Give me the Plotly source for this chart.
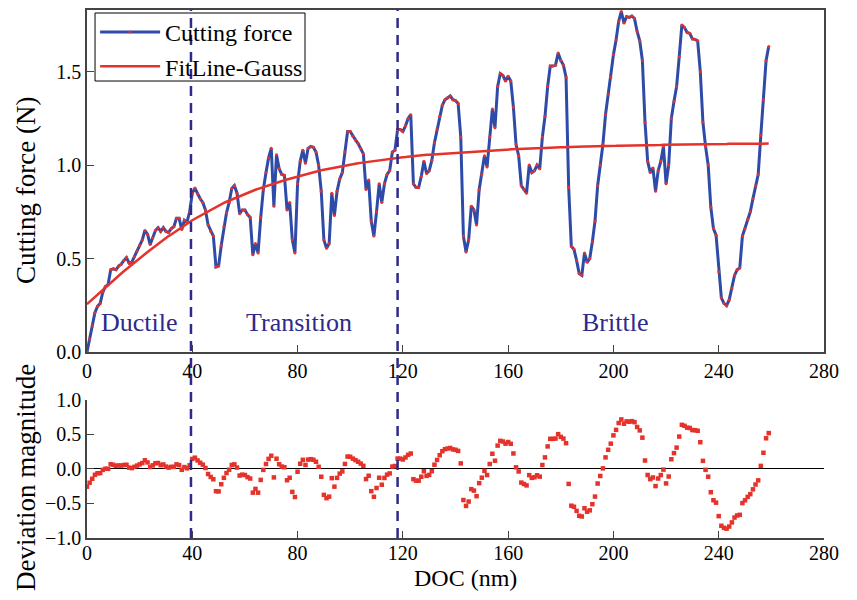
import plotly.graph_objects as go

# ---------------- data ----------------
doc_nm = list(range(260))

cutting_force = [
    0.00, 0.07, 0.14, 0.21, 0.245, 0.26, 0.32, 0.35, 0.36, 0.44,
    0.445, 0.44, 0.46, 0.47, 0.49, 0.505, 0.475, 0.48, 0.51, 0.54,
    0.57, 0.60, 0.65, 0.63, 0.575, 0.61, 0.65, 0.665, 0.645, 0.665,
    0.645, 0.64, 0.66, 0.67, 0.715, 0.715, 0.655, 0.705, 0.695, 0.75,
    0.85, 0.877, 0.845, 0.82, 0.80, 0.76, 0.68, 0.645, 0.62, 0.455,
    0.46, 0.57, 0.67, 0.745, 0.80, 0.875, 0.89, 0.85, 0.74, 0.76,
    0.76, 0.735, 0.72, 0.52, 0.58, 0.53, 0.72, 0.87, 0.96, 1.04,
    1.09, 0.78, 1.055, 0.98, 0.95, 0.945, 0.76, 0.80, 0.60, 0.53,
    0.90, 1.02, 1.08, 1.01, 1.09, 1.10, 1.095, 1.07, 1.00, 0.86,
    0.60, 0.555, 0.58, 0.85, 0.73, 0.86, 0.925, 0.96, 1.07, 1.18,
    1.18, 1.155, 1.135, 1.115, 1.09, 1.06, 0.87, 0.92, 0.70, 0.62,
    0.75, 0.90, 0.80, 0.90, 0.95, 0.97, 1.07, 1.08, 1.19, 1.19,
    1.18, 1.21, 1.25, 1.27, 0.90, 0.88, 0.88, 0.94, 1.02, 0.955,
    0.97, 1.025, 1.12, 1.19, 1.26, 1.32, 1.35, 1.36, 1.37, 1.35,
    1.345, 1.33, 1.15, 0.62, 0.535, 0.60, 0.78, 0.76, 0.68, 0.87,
    0.95, 1.05, 0.99, 1.15, 1.30, 1.20, 1.42, 1.49, 1.48, 1.45,
    1.475, 1.45, 1.31, 1.11, 1.05, 0.89, 0.87, 0.85, 1.00, 0.96,
    0.97, 1.00, 0.98, 1.15, 1.26, 1.42, 1.53, 1.53, 1.535, 1.60,
    1.56, 1.535, 1.47, 0.88, 0.565, 0.55, 0.49, 0.42, 0.41, 0.53,
    0.48, 0.50, 0.59, 0.70, 0.89, 1.00, 1.11, 1.27, 1.38, 1.47,
    1.59, 1.67, 1.77, 1.822, 1.76, 1.795, 1.79, 1.798, 1.785, 1.715,
    1.665, 1.56, 1.23, 1.02, 0.96, 0.985, 0.86, 0.97, 1.02, 1.10,
    0.90, 1.00, 1.25, 1.34, 1.42, 1.58, 1.75, 1.736, 1.71, 1.705,
    1.675, 1.673, 1.665, 1.50, 1.23, 1.10, 1.00, 0.775, 0.66, 0.625,
    0.43, 0.29, 0.26, 0.248, 0.28, 0.34, 0.41, 0.44, 0.45, 0.62,
    0.66, 0.71, 0.75, 0.82, 0.89, 0.95, 1.16, 1.35, 1.56, 1.635,
]

fit_gauss = [
    0.256, 0.269, 0.282, 0.294, 0.307, 0.320, 0.333, 0.346, 0.358, 0.371,
    0.384, 0.396, 0.408, 0.420, 0.432, 0.444, 0.455, 0.467, 0.479, 0.491,
    0.503, 0.514, 0.524, 0.535, 0.546, 0.557, 0.567, 0.578, 0.589, 0.599,
    0.610, 0.620, 0.629, 0.639, 0.648, 0.658, 0.667, 0.677, 0.686, 0.696,
    0.705, 0.713, 0.721, 0.729, 0.737, 0.745, 0.753, 0.761, 0.769, 0.777,
    0.785, 0.791, 0.798, 0.804, 0.810, 0.817, 0.823, 0.829, 0.835, 0.842,
    0.848, 0.853, 0.858, 0.863, 0.868, 0.873, 0.878, 0.883, 0.888, 0.893,
    0.898, 0.902, 0.906, 0.911, 0.915, 0.919, 0.923, 0.927, 0.932, 0.936,
    0.940, 0.944, 0.947, 0.951, 0.954, 0.958, 0.961, 0.965, 0.968, 0.972,
    0.975, 0.978, 0.981, 0.983, 0.986, 0.989, 0.992, 0.995, 0.997, 1.000,
    1.003, 1.005, 1.007, 1.010, 1.012, 1.014, 1.016, 1.018, 1.021, 1.023,
    1.025, 1.027, 1.028, 1.030, 1.032, 1.034, 1.035, 1.037, 1.039, 1.040,
    1.042, 1.043, 1.045, 1.046, 1.048, 1.049, 1.050, 1.052, 1.053, 1.055,
    1.056, 1.057, 1.058, 1.059, 1.060, 1.062, 1.063, 1.064, 1.065, 1.066,
    1.067, 1.068, 1.069, 1.070, 1.071, 1.072, 1.072, 1.073, 1.074, 1.075,
    1.076, 1.077, 1.078, 1.078, 1.079, 1.080, 1.081, 1.082, 1.082, 1.083,
    1.084, 1.085, 1.085, 1.086, 1.086, 1.087, 1.088, 1.088, 1.089, 1.089,
    1.090, 1.091, 1.091, 1.092, 1.092, 1.093, 1.093, 1.094, 1.094, 1.095,
    1.095, 1.095, 1.096, 1.096, 1.097, 1.097, 1.097, 1.098, 1.098, 1.099,
    1.099, 1.099, 1.100, 1.100, 1.101, 1.101, 1.101, 1.102, 1.102, 1.103,
    1.103, 1.103, 1.104, 1.104, 1.104, 1.105, 1.105, 1.105, 1.106, 1.106,
    1.106, 1.106, 1.107, 1.107, 1.107, 1.108, 1.108, 1.108, 1.108, 1.109,
    1.109, 1.109, 1.109, 1.110, 1.110, 1.110, 1.110, 1.110, 1.111, 1.111,
    1.111, 1.111, 1.111, 1.112, 1.112, 1.112, 1.112, 1.112, 1.113, 1.113,
    1.113, 1.113, 1.113, 1.113, 1.114, 1.114, 1.114, 1.114, 1.114, 1.114,
    1.114, 1.114, 1.115, 1.115, 1.115, 1.115, 1.115, 1.115, 1.115, 1.115,
]

# deviation magnitude = cutting force - Gauss fit
deviation = [round(f - g, 3) for f, g in zip(cutting_force, fit_gauss)]

x_ticks = [0, 40, 80, 120, 160, 200, 240, 280]
force_ticks = [0.0, 0.5, 1.0, 1.5]
dev_ticks = [-1.0, -0.5, 0.0, 0.5, 1.0]

region_names = ["Ductile", "Transition", "Brittle"]
region_doc = [20.1, 80.5, 200.6]
region_level = [0.16, 0.16, 0.16]
boundaries_nm = [39.5, 118.0]

# ---------------- styling ----------------
FONT = "Liberation Serif"
BLUE = "#2E4BA8"
RED = "#E5322A"
NAVY = "#2E2A8A"
AXIS = "#444444"

fig = go.Figure()
fig.add_trace(go.Scatter(
    x=doc_nm, y=cutting_force, mode="lines+markers", name="Cutting force",
    line=dict(color=BLUE, width=3), marker=dict(color=RED, size=3),
    xaxis="x", yaxis="y"))
fig.add_trace(go.Scatter(
    x=doc_nm, y=fit_gauss, mode="lines", name="FitLine-Gauss",
    line=dict(color=RED, width=2.5), xaxis="x", yaxis="y"))
fig.add_trace(go.Scatter(
    x=doc_nm, y=deviation, mode="markers", showlegend=False,
    marker=dict(symbol="square", size=4.5, color=RED),
    xaxis="x2", yaxis="y2"))

tickfont = dict(family=FONT, size=20, color="black")
common_x = dict(range=[0, 280], tickvals=x_ticks, ticks="inside", ticklen=7,
                tickcolor=AXIS, showline=True, linecolor=AXIS, linewidth=1.5,
                showgrid=False, zeroline=False, tickfont=tickfont,
                automargin=False)

fig.update_layout(
    width=841, height=584,
    margin=dict(l=79, r=25, t=2, b=54, autoexpand=False),
    paper_bgcolor="white", plot_bgcolor="white",
    font=dict(family=FONT, color="black"),
    xaxis=dict(domain=[0, 1], anchor="y", mirror=True, **common_x),
    yaxis=dict(domain=[0.3523, 1], anchor="x", range=[0, 1.83],
               tickvals=force_ticks, tickformat=".1f", ticks="inside",
               ticklen=7, tickcolor=AXIS, showline=True, linecolor=AXIS,
               linewidth=1.5, mirror=True, showgrid=False, zeroline=False,
               tickfont=tickfont, automargin=False),
    xaxis2=dict(domain=[0, 1], anchor="y2", ticklabelstandoff=-4, **common_x),
    yaxis2=dict(domain=[0, 0.2614], anchor="x2", range=[-1, 1],
                tickvals=dev_ticks, tickformat=".1f", ticks="inside",
                ticklen=7, tickcolor=AXIS, showline=True, linecolor=AXIS,
                linewidth=1.5, showgrid=False, zeroline=True,
                zerolinecolor="black", zerolinewidth=1.2, tickfont=tickfont,
                automargin=False),
    legend=dict(x=0.011, y=1.0, xanchor="left", yanchor="top",
                bgcolor="rgba(0,0,0,0)", borderwidth=0,
                font=dict(family=FONT, size=24, color="black"),
                itemwidth=60, tracegroupgap=0),
    showlegend=True,
)

# legend frame
fig.add_shape(type="rect", xref="paper", yref="paper",
              x0=0.0109, x1=0.2958, y0=0.8655, y1=0.9943,
              line=dict(color="black", width=1), fillcolor="white",
              layer="above")

for xb in boundaries_nm:
    fig.add_shape(type="line", xref="x", yref="paper", x0=xb, x1=xb,
                  y0=0, y1=1, line=dict(color=NAVY, width=2.5, dash="10px,7px"),
                  layer="above")

for name, xd, yl in zip(region_names, region_doc, region_level):
    fig.add_annotation(x=xd, y=yl, xref="x", yref="y", text=name,
                       showarrow=False, xanchor="center", yanchor="middle",
                       font=dict(family=FONT, size=26, color=NAVY))

fig.add_annotation(x=-0.0828, y=0.659, xref="paper", yref="paper",
                   text="Cutting force (N)", textangle=-90, showarrow=False,
                   xanchor="center", yanchor="middle",
                   font=dict(family=FONT, size=27, color="black"))
fig.add_annotation(x=-0.0828, y=0.1155, xref="paper", yref="paper",
                   text="Deviation magnitude", textangle=-90, showarrow=False,
                   xanchor="center", yanchor="middle",
                   font=dict(family=FONT, size=27, color="black"))
fig.add_annotation(x=0.513, y=-0.0758, xref="paper", yref="paper",
                   text="DOC (nm)", showarrow=False,
                   xanchor="center", yanchor="middle",
                   font=dict(family=FONT, size=24, color="black"))

fig.write_html("out.html")
